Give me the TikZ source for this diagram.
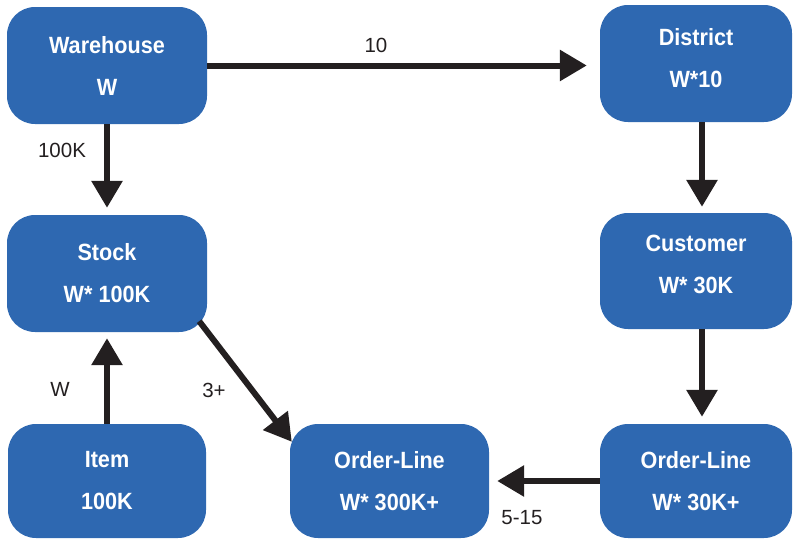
\documentclass[tikz,border=0pt]{standalone}
\usepackage{fontspec}
\setmainfont{Liberation Sans}[FakeStretch=0.92]
\newfontfamily\lblfont{Liberation Sans}
\usetikzlibrary{arrows.meta,calc}
\definecolor{boxblue}{RGB}{46,104,177}
\definecolor{arr}{RGB}{35,31,32}
\newcommand\updepth[1]{\rule[-#1]{0pt}{#1}}
\begin{document}
\begin{tikzpicture}[x=1pt,y=-1pt,
  ent/.style={fill=boxblue, rounded corners=28pt, text=white,
    font=\bfseries\fontsize{23.5}{42}\selectfont, align=center,
    inner sep=0pt, minimum height=117pt},
  conn/.style={draw=arr, line width=6pt, -{Triangle[width=30pt,length=27pt]}},
  lbl/.style={text=arr, font=\lblfont\fontsize{20.5}{22}\selectfont, inner sep=0pt}]
\useasboundingbox (0,0) rectangle (793,539);

\node[ent, minimum width=200pt] (warehouse) at (107,65.5) {Warehouse\\W};
\node[ent, minimum width=192pt] (district) at (696,63.5) {District\\W*10\updepth{11pt}};
\node[ent, minimum width=200pt] (stock) at (107,273.5) {Stock\\W* 100K};
\node[ent, minimum width=192pt, minimum height=116pt] (customer) at (696,271) {Customer\\W* 30K\updepth{13pt}};
\node[ent, minimum width=198pt, minimum height=114pt] (item) at (107,481) {Item\\100K};
\node[ent, minimum width=199pt, minimum height=114pt] (olm) at (389.5,481) {Order-Line\\W* 300K+};
\node[ent, minimum width=192pt, minimum height=114pt] (olr) at (696,481) {Order-Line\\W* 30K+};

\draw[conn, shorten >=13pt] (warehouse.east) -- (warehouse.east -| district.west);
\draw[conn, shorten >=7pt] (warehouse.south) -- (stock.north);
\draw[conn, shorten >=6pt] ([xshift=6pt]district.south) -- ([xshift=6pt]customer.north);
\draw[conn, shorten >=7pt] ([xshift=6pt]customer.south) -- ([xshift=6pt]olr.north);
\draw[conn, shorten >=8pt] (olr.west) -- (olm.east);
\draw[conn, shorten >=6pt] (item.north) -- (stock.south);
\draw[conn] ($(stock.south east)+(-8,-11)$) -- ($(olm.north west)+(2,18)$);

\node[lbl] (l10) at (376,45.5) {10};
\node[lbl] (l100k) at (62,150) {100K};
\node[lbl] (lw) at (60,389) {W};
\node[lbl] (l3) at (214,390) {3+};
\node[lbl] (l515) at (522,518) {5-15};
\end{tikzpicture}
\end{document}
